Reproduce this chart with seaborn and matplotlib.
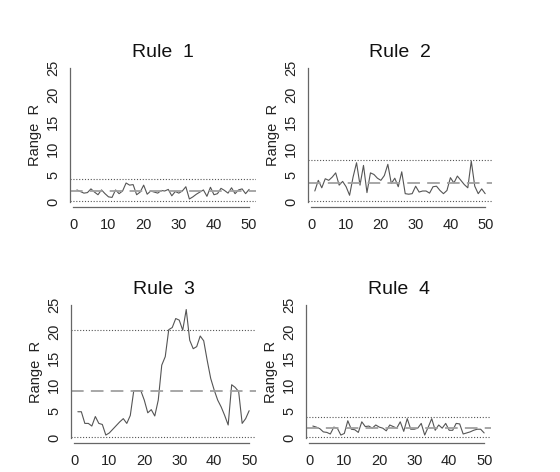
import matplotlib
matplotlib.use("Agg")
import matplotlib.pyplot as plt
import seaborn as sns
import pandas as pd
import numpy as np

# ---- data ----
titles = ["Rule  1", "Rule  2", "Rule  3", "Rule  4"]
sample = list(range(1, 51))

rule1 = [2.2, 1.9, 1.6, 1.7, 2.4, 1.8, 1.3, 2.2, 1.5, 0.9,
         0.8, 2.2, 1.5, 2.0, 3.5, 3.1, 3.2, 1.3, 1.8, 3.1,
         1.4, 2.0, 1.8, 1.6, 2.1, 2.0, 2.3, 1.1, 1.9, 1.6,
         2.0, 2.8, 0.5, 0.9, 1.4, 1.8, 2.2, 1.0, 2.7, 1.3,
         1.5, 2.5, 2.1, 1.6, 2.6, 1.5, 2.2, 2.4, 1.5, 2.3]
rule2 = [2.0, 4.0, 2.6, 4.3, 4.0, 4.6, 5.4, 3.1, 3.8, 2.8,
         1.2, 4.6, 7.3, 3.1, 6.8, 1.7, 5.4, 5.1, 4.4, 4.0,
         4.9, 7.0, 3.4, 4.4, 2.8, 5.6, 1.5, 1.4, 1.5, 2.9,
         1.8, 2.0, 2.0, 1.6, 2.8, 2.9, 2.1, 1.5, 2.1, 4.5,
         3.5, 4.8, 4.0, 3.2, 2.6, 7.6, 2.9, 1.5, 2.4, 1.5]
rule3 = [4.9, 4.9, 2.7, 2.7, 2.2, 4.0, 2.7, 2.5, 0.5, 0.9,
         1.6, 2.3, 3.0, 3.6, 2.7, 4.2, 8.9, 8.9, 8.9, 7.1,
         4.7, 5.3, 4.1, 7.1, 13.7, 15.3, 20.4, 20.8, 22.5, 22.2,
         20.3, 24.2, 18.4, 16.8, 17.2, 19.2, 18.3, 14.6, 11.2, 9.0,
         7.1, 5.8, 4.2, 2.4, 10.0, 9.5, 8.7, 2.7, 3.6, 5.1]
rule4 = [2.2, 2.0, 1.7, 1.1, 1.0, 0.7, 2.0, 1.8, 0.5, 0.8,
         3.2, 1.6, 1.5, 1.0, 3.0, 2.1, 2.2, 1.8, 2.4, 2.0,
         1.8, 1.3, 2.4, 2.1, 1.8, 3.0, 1.2, 3.6, 1.6, 1.6,
         1.8, 2.7, 0.5, 2.0, 3.6, 1.4, 2.4, 1.8, 2.7, 1.4,
         1.4, 2.7, 2.6, 0.7, 0.9, 1.1, 1.4, 1.6, 1.6, 0.9]
series = [rule1, rule2, rule3, rule4]

center = [1.94, 3.5, 8.9, 1.76]
ucl = [4.2, 7.9, 20.3, 3.96]
lcl = [0.05, 0.05, 0.05, 0.05]

xticks = [0, 10, 20, 30, 40, 50]
yticks = [0, 5, 10, 15, 20, 25]

# ---- style ----
sns.set_style("white")
plt.rcParams["font.family"] = ["Liberation Sans", "DejaVu Sans"]

W, H = 560, 472
fig = plt.figure(figsize=(W / 100, H / 100), dpi=100)

# panel boxes in pixels: left, top, right, bottom
boxes = [(70, 63, 256, 207), (308, 63, 492, 207),
         (71, 300, 256, 443), (306, 300, 491, 443)]

line_col = "#555555"
for i, (l, t, r, b) in enumerate(boxes):
    ax = fig.add_axes([l / W, 1 - b / H, (r - l) / W, (b - t) / H])
    df = pd.DataFrame({"Sample": sample, "Range": series[i]})
    sns.lineplot(data=df, x="Sample", y="Range", ax=ax, color=line_col,
                 linewidth=0.8)
    ax.axhline(center[i], color="#a0a0a0", lw=1.3, ls=(0, (7, 4)))
    ax.axhline(ucl[i], color="#555555", lw=0.8, ls=(0, (1, 1.6)))
    ax.axhline(lcl[i], color="#555555", lw=0.8, ls=(0, (1, 1.6)))
    ax.set_xlim(-0.96, 51.96)
    ax.set_ylim(-1, 26)
    for s in ["top", "right"]:
        ax.spines[s].set_visible(False)
    ax.spines["left"].set_bounds(0, 25)
    ax.spines["bottom"].set_bounds(0, 50)
    for s in ["left", "bottom"]:
        ax.spines[s].set_color("#666666")
        ax.spines[s].set_linewidth(0.9)
    ax.set_xticks(xticks)
    ax.set_yticks(yticks)
    ax.tick_params(axis="both", direction="out", length=3, width=0.8,
                   color="#666666", labelsize=10.5, labelcolor="#222222")
    ax.tick_params(axis="x", pad=5)
    ax.tick_params(axis="y", pad=4)
    for lab in ax.get_yticklabels():
        lab.set_rotation(90)
        lab.set_va("center")
    ax.set_xlabel("")
    ax.set_ylabel("Range  R", fontsize=10.5, color="#222222", labelpad=3)
    ax.set_title(titles[i], fontsize=14, pad=4, color="#111111")

fig.savefig("out.png", dpi=100)
